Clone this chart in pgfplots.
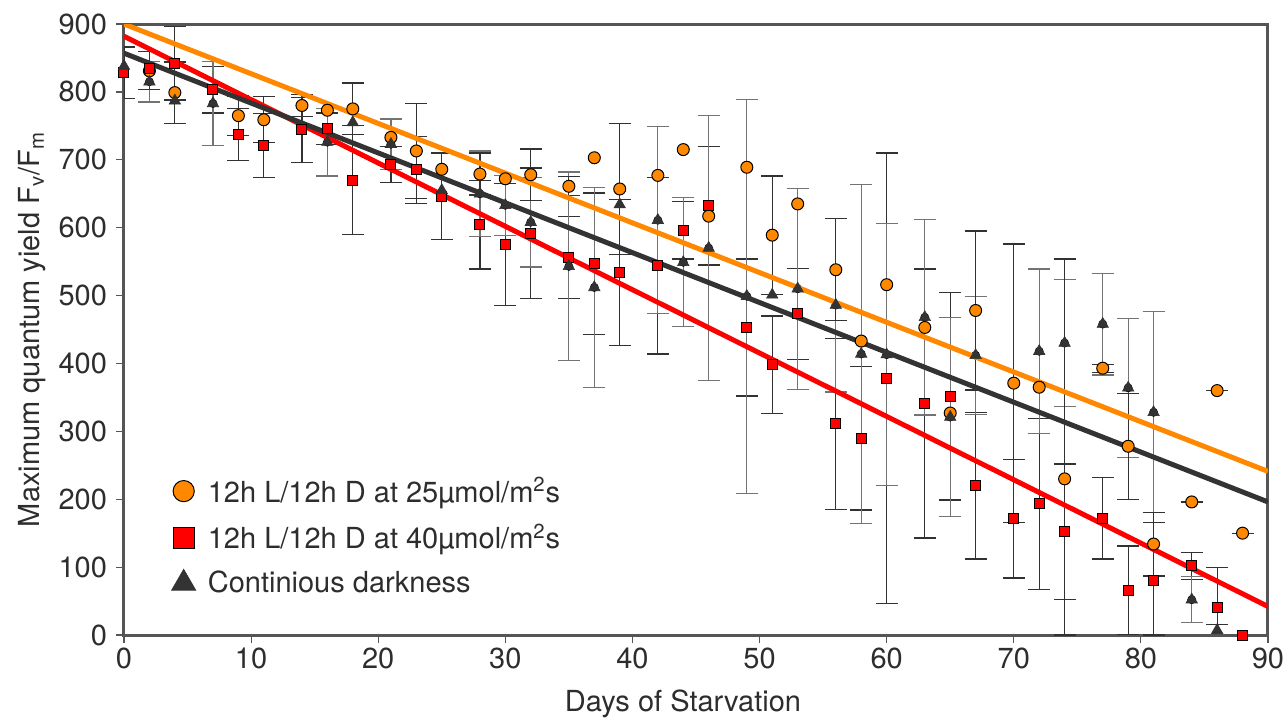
\documentclass[border=0pt]{standalone}
\usepackage{fontspec}
\setmainfont{TeX Gyre Heros}
\usepackage{pgfplots}
\pgfplotsset{compat=1.18}

\definecolor{orangeC}{RGB}{255,136,0}
\definecolor{redC}{RGB}{255,0,0}
\definecolor{darkC}{RGB}{51,51,51}
\definecolor{txtC}{RGB}{45,45,45}
\definecolor{barD}{RGB}{50,50,50}
\definecolor{barL}{RGB}{115,115,115}
\definecolor{axC}{RGB}{85,85,85}

% larger marker in the legend than in the plot
\pgfplotsset{bigleg/.style={legend image code/.code={\draw[##1, mark size=#1] plot coordinates {(0.25cm,0cm)};}}}
\newcommand{\txtfont}{\fontsize{14.5}{17}\selectfont}

\begin{document}
\begin{tikzpicture}
\useasboundingbox (-62pt,-41.5pt) rectangle (581pt,317.5pt);
\begin{axis}[
  at={(0pt,0pt)}, anchor=south west,
  scale only axis,
  width=572pt, height=305.5pt,
  xmin=0, xmax=90, ymin=0, ymax=900,
  xtick={0,10,...,90}, ytick={0,100,...,900},
  tick align=outside, tick pos=left,
  major tick length=4pt,
  every tick/.style={axC, line width=0.6pt},
  axis line style={axC, line width=1.5pt},
  /pgf/number format/assume math mode=true,
  ticklabel style={font=\txtfont, text=txtC},
  xticklabel style={yshift=1pt},
  yticklabel style={xshift=-1pt},
  xlabel={Days of Starvation},
  ylabel={Maximum quantum yield F\textsubscript{v}/F\textsubscript{m}},
  label style={font=\txtfont, text=txtC},
  xlabel style={at={(axis description cs:0.4886,-0.113)}, anchor=center},
  ylabel style={at={(axis description cs:-0.0804,0.5)}, anchor=center},
  clip mode=individual,
  legend style={at={(0.036,0.272)}, anchor=north west, draw=none, fill=none,
    font=\txtfont, text=txtC, row sep=5.5pt,
    /tikz/every odd column/.append style={column sep=4pt}},
  legend cell align=left,
  error bars/error mark=|,
]

% error bars: 12h L/12h D at 40 umol
\addplot[forget plot, only marks, mark=none,
  error bars/.cd, y dir=both, y explicit,
  error bar style={draw=barD, line width=0.6pt},
  error mark options={draw=barD, line width=0.6pt, mark size=5.5pt}]
coordinates {
 (0,828) +- (0,38) (4,842) +- (0,54) (7,803) +- (0,34) (9,737) +- (0,38)
 (11,721) +- (0,47) (14,744) +- (0,48) (16,746) +- (0,23) (18,670) +- (0,80)
 (21,693) +- (0,26) (23,685) +- (0,49) (25,646) +- (0,64) (28,604) +- (0,65)
 (30,575) +- (0,90) (32,592) +- (0,96) (35,556) +- (0,60) (37,547) +- (0,104)
 (39,534) +- (0,108) (42,544) +- (0,130) (44,596) +- (0,42) (46,632) +- (0,87)
 (49,453) +- (0,101) (51,398) +- (0,72) (53,473) +- (0,67) (56,311) +- (0,126)
 (58,290) +- (0,106) (60,378) +- (0,332) (63,341) +- (0,198) (65,352) +- (0,153)
 (67,220) +- (0,108) (70,171) +- (0,87) (72,193) +- (0,126) (74,152) +- (0,100)
 (77,172) +- (0,60) (79,66) +- (0,65) (81,80) += (0,86) -= (0,80)
 (84,102) +- (0,20) (86,41) += (0,58) -= (0,26)
};

% error bars: continuous darkness
\addplot[forget plot, only marks, mark=none,
  error bars/.cd, y dir=both, y explicit,
  error bar style={draw=barL, line width=0.6pt},
  error mark options={draw=barL, line width=0.6pt, mark size=5.5pt}]
coordinates {
 (2,815) +- (0,30) (7,783) +- (0,62) (16,726) +- (0,50) (21,723) +- (0,37)
 (28,650) +- (0,63) (30,633) +- (0,44) (32,608) +- (0,66) (35,543) +- (0,139)
 (37,512) +- (0,147) (42,611) +- (0,138) (44,549) +- (0,95) (46,570) +- (0,195)
 (49,499) +- (0,290) (53,510) +- (0,148) (56,486) +- (0,128) (58,414) +- (0,250)
 (60,413) +- (0,193) (63,468) +- (0,144) (65,321) +- (0,147) (67,412) +- (0,87)
 (72,418) +- (0,121) (74,430) +- (0,94) (77,458) +- (0,75) (79,364) +- (0,102)
 (81,328) +- (0,148) (84,52) +- (0,34)
};

% error bars: 12h L/12h D at 25 umol
\addplot[forget plot, only marks, mark=none,
  error bars/.cd, y dir=both, y explicit,
  error bar style={draw=barD, line width=0.6pt},
  error mark options={draw=barD, line width=0.6pt, mark size=5.5pt}]
coordinates {
 (2,831) +- (0,28) (4,799) +- (0,45) (9,765) +- (0,29) (11,759) +- (0,34)
 (14,780) +- (0,16) (18,775) +- (0,38) (23,713) +- (0,70) (28,679) +- (0,31)
 (32,678) +- (0,38) (35,661) +- (0,14) (39,657) +- (0,97) (51,589) +- (0,87)
 (56,538) +- (0,75) (67,478) +- (0,117) (70,371) +- (0,205)
 (74,230) += (0,324) -= (0,230) (77,393) +- (0,6) (79,278) +- (0,78)
 (81,134) +- (0,47) (84,196) +- (0,0) (86,360) +- (0,0) (88,150) +- (0,0)
};

% linear trends
\addplot[forget plot, redC, line width=2.5pt] coordinates {(0,882) (90,42)};
\addplot[forget plot, darkC, line width=2.5pt] coordinates {(0,857) (90,196)};
\addplot[forget plot, orangeC, line width=2.5pt] coordinates {(0,900) (90,241)};

% measurements
\addplot[only marks, mark=*, mark size=3.0pt,
  mark options={fill=orangeC, draw=black, line width=0.5pt}, bigleg=5.3pt]
coordinates {
 (2,831) (4,799) (9,765) (11,759) (14,780) (16,773) (18,775) (21,733)
 (23,713) (25,686) (28,679) (30,672) (32,678) (35,661) (37,703) (39,657)
 (42,677) (44,715) (46,617) (49,689) (51,589) (53,635) (56,538) (58,433)
 (60,516) (63,453) (65,327) (67,478) (70,371) (72,365) (74,230) (77,393)
 (79,278) (81,134) (84,196) (86,360) (88,150)
};
\addlegendentry{12h L/12h D at 25µmol/m\textsuperscript{2}s}

\addplot[only marks, mark=square*, mark size=2.5pt,
  mark options={fill=redC, draw=black, line width=0.5pt}, bigleg=5.2pt]
coordinates {
 (0,828) (2,835) (4,842) (7,803) (9,737) (11,721) (14,744) (16,746)
 (18,670) (21,693) (23,685) (25,646) (28,604) (30,575) (32,592) (35,556)
 (37,547) (39,534) (42,544) (44,596) (46,632) (49,453) (51,398) (53,473)
 (56,311) (58,290) (60,378) (63,341) (65,352) (67,220) (70,171) (72,193)
 (74,152) (77,172) (79,66) (81,80) (84,102) (86,41) (88,0)
};
\addlegendentry{12h L/12h D at 40µmol/m\textsuperscript{2}s}

\addplot[only marks, mark=triangle*, mark size=3.3pt,
  mark options={fill=darkC, draw=darkC, line width=0.3pt}, bigleg=7.0pt]
coordinates {
 (0,838) (2,815) (4,787) (7,783) (16,726) (18,755) (21,723) (25,655)
 (28,650) (30,633) (32,608) (35,543) (37,512) (39,634) (42,611) (44,549)
 (46,570) (49,499) (51,501) (53,510) (56,486) (58,414) (60,413) (63,468)
 (65,321) (67,412) (72,418) (74,430) (77,458) (79,364) (81,328) (84,52)
 (86,7)
};
\addlegendentry{Continious darkness}

\end{axis}
\end{tikzpicture}
\end{document}
